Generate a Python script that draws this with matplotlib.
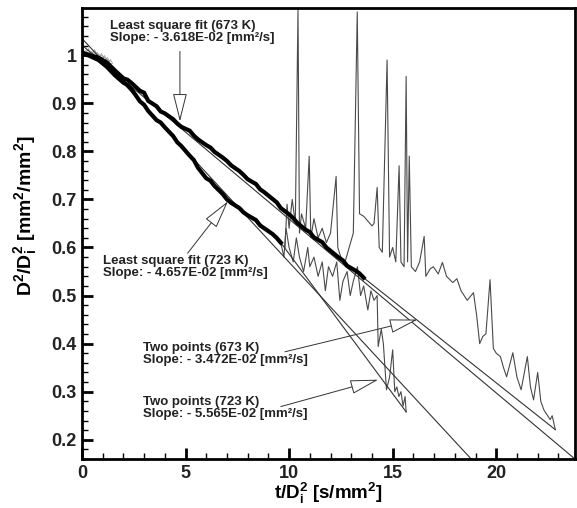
"""Droplet regression D^2/Di^2 vs t/Di^2 with fit lines (673 K and 723 K)."""

import matplotlib
matplotlib.use("Agg")
import matplotlib.pyplot as plt
from matplotlib.ticker import MultipleLocator, FuncFormatter

plt.rcParams["font.family"] = ["Liberation Sans", "DejaVu Sans"]
plt.rcParams["mathtext.fontset"] = "custom"
plt.rcParams["mathtext.rm"] = "Liberation Sans:bold"
plt.rcParams["mathtext.it"] = "Liberation Sans:bold"
plt.rcParams["mathtext.bf"] = "Liberation Sans:bold"

# early (grey symbol) samples
start_x = [0.0, 0.15, 0.3, 0.45, 0.6, 0.75, 0.9, 1.05, 1.2, 1.35]
start_y = [1.012, 1.006, 1.011, 1.004, 1.009, 1.002, 1.0, 0.997, 0.992, 0.987]

# smooth part of the measured curves (thick)
t673_x = [0.0, 0.4, 0.8, 1.2, 1.6, 2.0, 2.2, 2.4, 2.8, 3.0, 3.2, 3.6, 3.8, 4.0,
          4.4, 4.6, 4.8, 5.2, 5.4, 5.6, 6.0, 6.2, 6.4, 6.8, 7.0, 7.2, 7.6, 7.8,
          8.0, 8.4, 8.6, 8.8, 9.2, 9.4, 9.6, 10.0, 10.2, 10.4, 10.8, 11.0, 11.2,
          11.6, 11.8, 12.0, 12.4, 12.6, 12.8, 13.2, 13.4, 13.6]
t673_y = [1.005, 1.0, 0.995, 0.985, 0.968, 0.952, 0.949, 0.942, 0.926, 0.922,
          0.905, 0.894, 0.883, 0.879, 0.867, 0.858, 0.851, 0.843, 0.833, 0.825,
          0.813, 0.808, 0.799, 0.787, 0.78, 0.771, 0.759, 0.751, 0.742, 0.732,
          0.721, 0.715, 0.701, 0.694, 0.682, 0.669, 0.661, 0.651, 0.637, 0.632,
          0.621, 0.611, 0.6, 0.593, 0.579, 0.573, 0.562, 0.552, 0.546, 0.537]

t723_x = [0.0, 0.4, 0.8, 1.2, 1.6, 2.0, 2.2, 2.4, 2.8, 3.0, 3.2, 3.6, 3.8, 4.0,
          4.4, 4.6, 4.8, 5.2, 5.4, 5.6, 6.0, 6.2, 6.4, 6.8, 7.0, 7.2, 7.6, 7.8,
          8.0, 8.4, 8.6, 8.8, 9.2, 9.4, 9.6]
t723_y = [1.005, 0.998, 0.99, 0.976, 0.958, 0.943, 0.938, 0.929, 0.904, 0.897,
          0.884, 0.865, 0.86, 0.85, 0.832, 0.819, 0.811, 0.791, 0.782, 0.766,
          0.744, 0.739, 0.728, 0.711, 0.7, 0.693, 0.682, 0.673, 0.667, 0.657,
          0.646, 0.64, 0.628, 0.62, 0.61]

# noisy tail of the measured curves (thin)
n673_x = [9.8, 9.9, 10.0, 10.15, 10.3, 10.43, 10.5, 10.6, 10.8, 10.97, 11.05,
          11.2, 11.4, 11.6, 11.8, 12.0, 12.27, 12.35, 12.5, 12.7, 12.9, 13.1,
          13.29, 13.4, 13.6, 13.8, 14.0, 14.1, 14.25, 14.35, 14.5, 14.73, 14.85,
          15.0, 15.15, 15.31, 15.4, 15.55, 15.65, 15.72, 15.8, 15.9, 16.1, 16.3,
          16.52, 16.6, 16.8, 16.96, 17.2, 17.4, 17.6, 17.9, 18.1, 18.3, 18.6,
          18.9, 19.05, 19.2, 19.35, 19.5, 19.7, 19.86, 20.0, 20.2, 20.35, 20.5,
          20.8, 21.0, 21.2, 21.5, 21.65, 21.8, 22.0, 22.15, 22.3, 22.6, 22.7,
          22.85]
n673_y = [0.6, 0.69, 0.64, 0.7, 0.65, 1.095, 0.63, 0.67, 0.64, 0.79, 0.62,
          0.66, 0.62, 0.64, 0.61, 0.63, 0.748, 0.6, 0.58, 0.57, 0.6, 0.63,
          1.09, 0.67, 0.665, 0.655, 0.645, 0.65, 0.725, 0.6, 0.59, 0.99, 0.58,
          0.6, 0.57, 0.77, 0.57, 0.56, 0.956, 0.57, 0.79, 0.56, 0.55, 0.57,
          0.623, 0.54, 0.555, 0.56, 0.545, 0.569, 0.54, 0.527, 0.535, 0.51, 0.49,
          0.506, 0.46, 0.4, 0.415, 0.42, 0.533, 0.39, 0.38, 0.373, 0.35, 0.331,
          0.381, 0.33, 0.304, 0.373, 0.31, 0.283, 0.34, 0.28, 0.262, 0.242, 0.25,
          0.221]

n723_x = [9.6, 9.75, 9.85, 10.0, 10.2, 10.35, 10.5, 10.7, 10.9, 11.0, 11.2,
          11.4, 11.6, 11.75, 11.9, 12.1, 12.3, 12.45, 12.6, 12.8, 12.95, 13.1,
          13.3, 13.45, 13.6, 13.8, 13.95, 14.1, 14.25, 14.3, 14.45, 14.55, 14.7,
          14.85, 15.0, 15.1, 15.2, 15.3, 15.4, 15.5, 15.6, 15.65]
n723_y = [0.61, 0.58, 0.64, 0.6, 0.57, 0.62, 0.58, 0.55, 0.6, 0.56, 0.58,
          0.54, 0.57, 0.51, 0.56, 0.54, 0.57, 0.49, 0.53, 0.55, 0.5, 0.53,
          0.56, 0.5, 0.52, 0.47, 0.51, 0.49, 0.5, 0.394, 0.43, 0.4, 0.304,
          0.33, 0.387, 0.3, 0.31, 0.29, 0.3, 0.27, 0.29, 0.258]

# least square fits (intercept, slope)
lsq_b = [1.021, 1.035]
lsq_m = [-0.03618, -0.04657]

# two-point lines
tp673_x = [13.6, 22.85]
tp673_y = [0.537, 0.221]
tp723_x = [9.6, 15.65]
tp723_y = [0.61, 0.258]

labels = [
    "Least square fit (673 K)\nSlope: - 3.618E-02 [mm\u00b2/s]",
    "Least square fit (723 K)\nSlope: - 4.657E-02 [mm\u00b2/s]",
    "Two points (673 K)\nSlope: - 3.472E-02 [mm\u00b2/s]",
    "Two points (723 K)\nSlope: - 5.565E-02 [mm\u00b2/s]",
]
label_xy = [(1.35, 1.074), (1.0, 0.585), (2.95, 0.404), (2.95, 0.291)]
arrow_tail = [(4.73, 1.008), (5.1, 0.588), (9.8, 0.383), (9.6, 0.269)]
arrow_tip = [(4.73, 0.862), (7.05, 0.696), (16.2, 0.45), (14.3, 0.325)]

fig = plt.figure(figsize=(5.77, 5.08), dpi=100)
ax = fig.add_axes([0.142, 0.0965, 0.8545, 0.8875])

ax.plot(start_x, start_y, color="#999999", lw=0.6, marker="^", ms=3,
        mfc="none", mec="#999999", mew=0.5)

ax.plot(n673_x, n673_y, color="#4a4a4a", lw=0.8)
ax.plot(n723_x, n723_y, color="#4a4a4a", lw=0.8)

for b, m in zip(lsq_b, lsq_m):
    ax.axline((0, b), slope=m, color="#333333", lw=0.8)
ax.plot(tp673_x, tp673_y, color="#333333", lw=0.8)
ax.plot(tp723_x, tp723_y, color="#333333", lw=0.8)

ax.plot(t673_x, t673_y, color="black", lw=3.0, solid_joinstyle="miter")
ax.plot(t723_x, t723_y, color="black", lw=3.0, solid_joinstyle="miter")

for txt, xy, tail, tip in zip(labels, label_xy, arrow_tail, arrow_tip):
    ax.text(xy[0], xy[1], txt, fontsize=9.5, fontweight="bold", color="#222222",
            ha="left", va="top", linespacing=1.0)
    ax.annotate("", xy=tip, xytext=tail,
                arrowprops=dict(arrowstyle="-|>,head_length=1.8,head_width=0.45",
                                mutation_scale=10, fc="white", ec="#333333",
                                lw=0.7, shrinkA=0, shrinkB=0))

ax.set_xlim(0, 23.8)
ax.set_ylim(0.16, 1.098)
ax.xaxis.set_major_locator(MultipleLocator(5))
ax.xaxis.set_minor_locator(MultipleLocator(1))
ax.yaxis.set_major_locator(MultipleLocator(0.1))
ax.yaxis.set_minor_locator(MultipleLocator(0.02))
ax.yaxis.set_major_formatter(FuncFormatter(lambda v, p: f"{v:g}"))
ax.tick_params(which="major", direction="in", length=8, width=2,
               labelsize=13, pad=4)
ax.tick_params(which="minor", direction="in", length=4, width=1)
ax.tick_params(top=False, right=False)
for lab in ax.get_xticklabels() + ax.get_yticklabels():
    lab.set_fontweight("bold")
    lab.set_color("#222222")
for sp in ax.spines.values():
    sp.set_linewidth(2)

ax.set_xlabel("t/D$_i^2$ [s/mm$^2$]", fontsize=13.5, fontweight="bold")
ax.xaxis.set_label_coords(0.5, -0.048)
ax.set_ylabel("D$^2$/D$_i^2$ [mm$^2$/mm$^2$]", fontsize=14, fontweight="bold")
ax.yaxis.set_label_coords(-0.088, 0.54)

fig.savefig("out.png", dpi=100)
